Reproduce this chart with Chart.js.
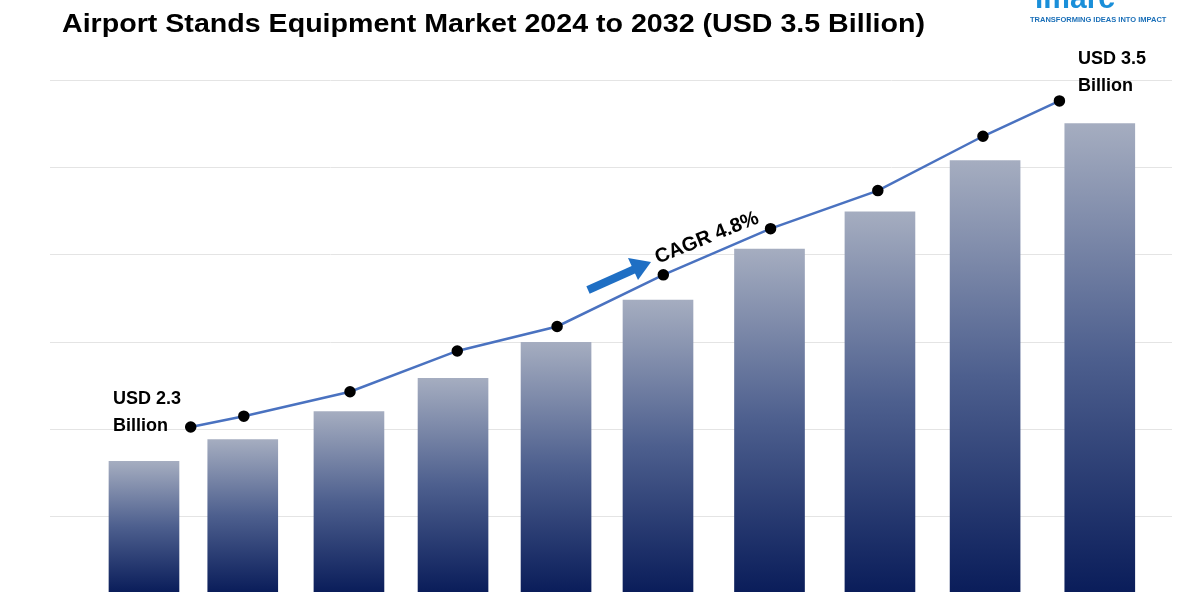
<!DOCTYPE html>
<html><head><meta charset="utf-8">
<script src="https://cdn.jsdelivr.net/npm/chart.js@4"></script>
<style>html,body{margin:0;padding:0;background:#fff;}#w{position:relative;width:1200px;height:600px;}</style>
</head><body><div id="w"><canvas id="c" width="1200" height="600"></canvas></div>
<script>
const barPositions=[0,0.93,1.93,2.91,3.88,4.84,5.89,6.93,7.92,9.0];
const barValues=[1.02,1.19,1.41,1.67,1.95,2.28,2.68,2.97,3.37,3.66];
const linePositions=[0.44,0.94,1.94,2.95,3.89,4.89,5.90,6.91,7.90,8.62];
const lineValues=[2.30,2.34,2.43,2.58,2.67,2.86,3.03,3.17,3.37,3.50];
const gridTicks=[0.586,1.27,1.953,2.636,3.32,4.0];
const title="Airport Stands Equipment Market 2024 to 2032 (USD 3.5 Billion)";

function barColor(ctx){
  const ch=ctx.chart, a=ch.chartArea; if(!a) return '#2a3d70';
  const y=ch.scales.y, v=ctx.raw&&ctx.raw.y!==undefined?ctx.raw.y:0;
  const top=y.getPixelForValue(v), bot=y.getPixelForValue(0);
  const g=ch.ctx.createLinearGradient(0,top,0,bot);
  g.addColorStop(0,'#a5adc0');g.addColorStop(0.5,'#4d5f8e');g.addColorStop(1,'#0a1d5a');
  return g;
}
function fitText(c,t,x,y,w){const m=c.measureText(t).width;c.save();c.translate(x,y);c.scale(w/m,1);c.fillText(t,0,0);c.restore();}
const deco={id:'deco',afterDraw(ch){
  const c=ch.ctx;c.save();
  c.fillStyle='#000';c.font='bold 25px "Liberation Sans",sans-serif';c.textBaseline='alphabetic';
  fitText(c,title,62,32,863);
  c.font='bold 18px "Liberation Sans",sans-serif';
  c.fillText('USD 2.3',113,404);c.fillText('Billion',113,431);
  c.fillText('USD 3.5',1078,64);c.fillText('Billion',1078,91);
  c.strokeStyle='#1f6fc4';c.fillStyle='#1f6fc4';c.lineWidth=8;
  c.beginPath();c.moveTo(588,290);c.lineTo(635,269);c.stroke();
  c.beginPath();c.moveTo(651,262);c.lineTo(628,258);c.lineTo(638,280);c.closePath();c.fill();
  c.save();c.translate(707,238);c.rotate(-22*Math.PI/180);
  c.fillStyle='#000';c.font='bold 20px "Liberation Sans",sans-serif';c.textAlign='center';c.textBaseline='middle';
  c.fillText('CAGR 4.8%',0,0);c.restore();
  c.fillStyle='#1a8fd9';c.font='bold 30px "Liberation Sans",sans-serif';c.fillText('imarc',1035,8);
  c.fillStyle='#1a6fb8';c.font='bold 7.5px "Liberation Sans",sans-serif';c.fillText('TRANSFORMING IDEAS INTO IMPACT',1030,22);
  c.restore();
}};
new Chart(document.getElementById('c'),{
  data:{datasets:[
    {type:'line',data:linePositions.map((x,i)=>({x,y:lineValues[i]})),yAxisID:'y2',borderColor:'#4a72c0',borderWidth:2.5,
     pointBackgroundColor:'#000',pointBorderColor:'#000',pointRadius:4.5,clip:false,order:0},
    {type:'bar',data:barPositions.map((x,i)=>({x,y:barValues[i]})),yAxisID:'y',backgroundColor:barColor,barThickness:70,order:1}
  ]},
  options:{responsive:false,animation:false,devicePixelRatio:1,
    layout:{padding:{left:50,right:28,top:80,bottom:8}},
    plugins:{legend:{display:false},tooltip:{enabled:false}},
    scales:{
      x:{type:'linear',min:-0.885,max:9.68,display:false,offset:false},
      y:{min:0,max:4.0,afterFit(s){s.width=0;},afterBuildTicks(s){s.ticks=gridTicks.map(v=>({value:v}));},
         ticks:{display:false},border:{display:false},grid:{color:'#e4e4e4',lineWidth:1,drawTicks:false}},
      y2:{min:1.693,max:3.577,display:false}
    }},
  plugins:[deco]
});
</script></body></html>
